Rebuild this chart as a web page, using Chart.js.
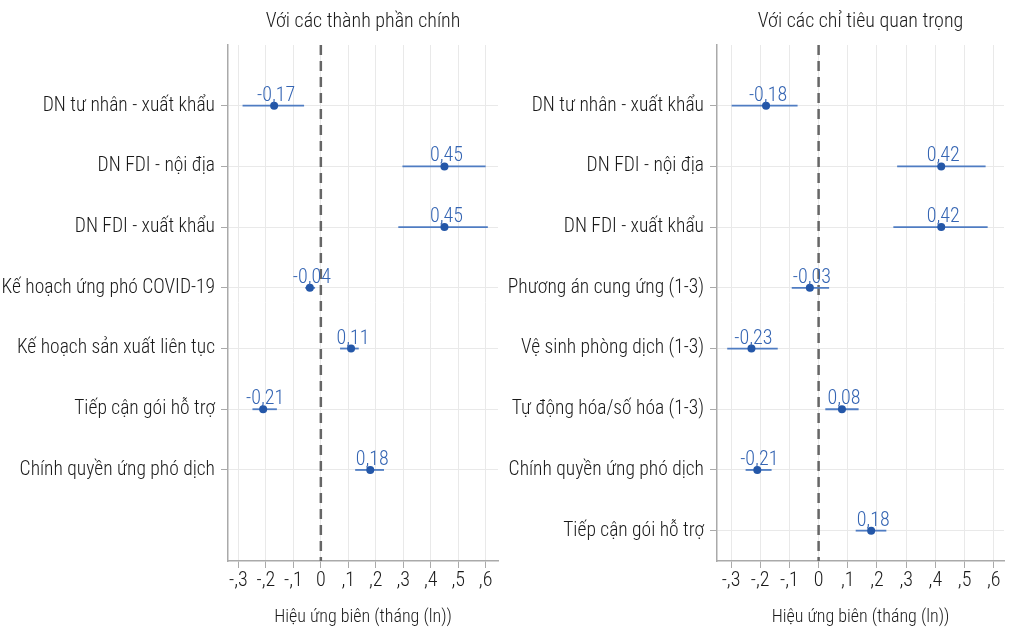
<!DOCTYPE html>
<html>
<head>
<meta charset="utf-8">
<script src="https://cdn.jsdelivr.net/npm/chart.js@4"></script>
<style>
  html, body { margin: 0; padding: 0; background: #fff; }
  #wrap { position: relative; width: 1010px; height: 630px; }
  canvas { position: absolute; top: 0; }
  #left { left: 0; }
  #right { left: 505px; }
</style>
</head>
<body>
<div id="wrap">
  <canvas id="left" width="505" height="630"></canvas>
  <canvas id="right" width="505" height="630"></canvas>
</div>
<script>
// x axis ticks shared by both panels
const xTickValues = [-0.3, -0.2, -0.1, 0, 0.1, 0.2, 0.3, 0.4, 0.5, 0.6];
const xTickLabels = ['-,3', '-,2', '-,1', '0', ',1', ',2', ',3', ',4', ',5', ',6'];
const xTitle = 'Hiệu ứng biên (tháng (ln))';

// left panel: main components
const leftTitle = 'Với các thành phần chính';
const leftCategories = ['DN tư nhân - xuất khẩu', 'DN FDI - nội địa', 'DN FDI - xuất khẩu',
  'Kế hoạch ứng phó COVID-19', 'Kế hoạch sản xuất liên tục', 'Tiếp cận gói hỗ trợ', 'Chính quyền ứng phó dịch'];
const leftEstimates = [-0.17, 0.45, 0.45, -0.04, 0.11, -0.21, 0.18];
const leftLower = [-0.285, 0.297, 0.282, -0.057, 0.070, -0.249, 0.125];
const leftUpper = [-0.061, 0.600, 0.608, -0.021, 0.138, -0.160, 0.230];

// right panel: key indicators
const rightTitle = 'Với các chỉ tiêu quan trọng';
const rightCategories = ['DN tư nhân - xuất khẩu', 'DN FDI - nội địa', 'DN FDI - xuất khẩu',
  'Phương án cung ứng (1-3)', 'Vệ sinh phòng dịch (1-3)', 'Tự động hóa/số hóa (1-3)',
  'Chính quyền ứng phó dịch', 'Tiếp cận gói hỗ trợ'];
const rightEstimates = [-0.18, 0.42, 0.42, -0.03, -0.23, 0.08, -0.21, 0.18];
const rightLower = [-0.298, 0.269, 0.256, -0.092, -0.313, 0.023, -0.250, 0.127];
const rightUpper = [-0.072, 0.572, 0.579, 0.036, -0.140, 0.137, -0.161, 0.232];

const FONT = "'Roboto Condensed', 'DejaVu Sans Condensed', sans-serif";
Chart.defaults.font.family = FONT;
Chart.defaults.font.weight = 300;

const fmt = v => v.toFixed(2).replace('.', ',');

// draws zero line, CI whiskers, value labels and panel title using the chart's scales
const forestPlugin = {
  id: 'forest',
  beforeDatasetsDraw(chart, args, o) {
    const { ctx, chartArea: a, scales: { x, y } } = chart;
    ctx.save();
    const x0 = x.getPixelForValue(0);
    ctx.strokeStyle = '#666';
    ctx.lineWidth = 2.5;
    ctx.setLineDash([10, 6]);
    ctx.beginPath();
    ctx.moveTo(x0, a.top);
    ctx.lineTo(x0, a.bottom);
    ctx.stroke();
    ctx.setLineDash([]);
    ctx.strokeStyle = '#4f7cc2';
    ctx.lineWidth = 1.8;
    o.lower.forEach((lo, i) => {
      const py = y.getPixelForValue(i + 1);
      ctx.beginPath();
      ctx.moveTo(x.getPixelForValue(lo), py);
      ctx.lineTo(x.getPixelForValue(o.upper[i]), py);
      ctx.stroke();
    });
    ctx.restore();
  },
  afterDatasetsDraw(chart, args, o) {
    const { ctx, chartArea: a, scales: { x, y } } = chart;
    ctx.save();
    ctx.font = '300 20px ' + FONT;
    ctx.fillStyle = '#3565b3';
    ctx.textAlign = 'center';
    ctx.textBaseline = 'alphabetic';
    o.estimates.forEach((v, i) => {
      ctx.fillText(fmt(v), x.getPixelForValue(v) + 2, y.getPixelForValue(i + 1) - 5);
    });
    ctx.fillStyle = '#1a1a1a';
    ctx.font = '300 20px ' + FONT;
    ctx.fillText(o.title, (a.left + a.right) / 2, 27);
    ctx.restore();
  }
};

function makeChart(id, title, cats, est, lo, hi, yWidth, xMin, xMax, padRight) {
  return new Chart(document.getElementById(id), {
    type: 'scatter',
    data: {
      datasets: [{
        data: est.map((v, i) => ({ x: v, y: i + 1 })),
        pointRadius: 4,
        pointHoverRadius: 4,
        backgroundColor: '#2457a8',
        borderColor: '#2457a8',
        borderWidth: 0
      }]
    },
    options: {
      responsive: false,
      animation: false,
      devicePixelRatio: 1,
      layout: { padding: { top: 45, right: padRight, left: 0, bottom: 0 } },
      plugins: {
        legend: { display: false },
        tooltip: { enabled: false },
        forest: { title, estimates: est, lower: lo, upper: hi }
      },
      scales: {
        x: {
          type: 'linear', min: xMin, max: xMax,
          afterBuildTicks: s => { s.ticks = xTickValues.map(v => ({ value: v })); },
          afterFit: s => { s.height = 69; },
          ticks: { callback: (v, i) => xTickLabels[i], color: '#1a1a1a', font: { size: 20 }, padding: 1, maxRotation: 0, autoSkip: false },
          grid: { color: '#e9e9e9', lineWidth: 1, tickLength: 7, tickColor: '#aaa' },
          border: { color: '#aaa', width: 1.5 },
          title: { display: true, text: xTitle, color: '#1a1a1a', font: { size: 18 }, padding: { top: 4, bottom: 2 } }
        },
        y: {
          type: 'linear', reverse: true, min: 0, max: 8.5,
          afterBuildTicks: s => { s.ticks = cats.map((c, i) => ({ value: i + 1 })); },
          afterFit: s => { s.width = yWidth; },
          ticks: { callback: v => cats[v - 1], color: '#1a1a1a', font: { size: 19.5 }, padding: 6, autoSkip: false },
          grid: { color: '#e9e9e9', lineWidth: 1, tickLength: 7, tickColor: '#aaa' },
          border: { color: '#aaa', width: 1.5 }
        }
      }
    },
    plugins: [forestPlugin]
  });
}

makeChart('left', leftTitle, leftCategories, leftEstimates, leftLower, leftUpper, 228, -0.338, 0.645, 7);
makeChart('right', rightTitle, rightCategories, rightEstimates, rightLower, rightUpper, 212, -0.348, 0.635, 6);
</script>
</body>
</html>
